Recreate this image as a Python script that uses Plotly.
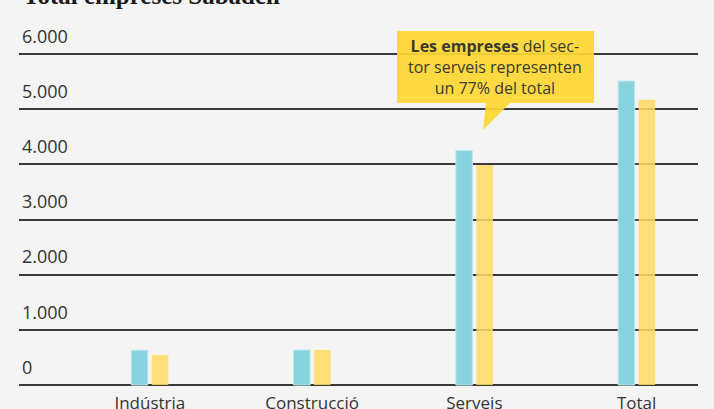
import plotly.graph_objects as go

categories = ["Indústria", "Construcció", "Serveis", "Total"]
series_a = [630, 635, 4250, 5510]   # blue series
series_b = [545, 635, 3990, 5170]   # yellow series
y_ticks = [0, 1000, 2000, 3000, 4000, 5000, 6000]
y_tick_labels = ["0", "1.000", "2.000", "3.000", "4.000", "5.000", "6.000"]

W, H = 714, 409
L, R, T, B = 19, 16, 52, 22
pw, ph = W - L - R, H - T - B

def px(x):
    return (x - L) / pw

def py(y):
    return (H - B - y) / ph

fig = go.Figure()
fig.add_trace(go.Bar(x=categories, y=series_a, marker=dict(color="#86D3DE", line=dict(color="#BFE7EE", width=1)),
                     showlegend=False, hoverinfo="skip"))
fig.add_trace(go.Bar(x=categories, y=series_b, marker=dict(color="rgba(255,217,95,0.85)", line=dict(width=0)),
                     showlegend=False, hoverinfo="skip"))

# callout box with pointer
x0, x1, y0, y1 = 397, 594, 31, 103
path = (f"M {px(x0)},{py(y0)} L {px(x1)},{py(y0)} L {px(x1)},{py(y1)} "
        f"L {px(510)},{py(y1)} L {px(483)},{py(130)} L {px(486)},{py(y1)} "
        f"L {px(x0)},{py(y1)} Z")
fig.add_shape(type="path", xref="paper", yref="paper", path=path,
              fillcolor="rgba(255,214,51,0.93)", line=dict(width=0), layer="above")
fig.add_annotation(xref="paper", yref="paper", x=px(495.5), y=py(67), xanchor="center", yanchor="middle",
                   showarrow=False, align="center",
                   text="<b>Les empreses</b> del sec-<br>tor serveis representen<br>un 77% del total",
                   font=dict(family="Open Sans", size=16, color="#3a3a30"))

# title (cut off at top)
fig.add_annotation(xref="paper", yref="paper", x=px(21), y=py(11), xanchor="left", yanchor="bottom",
                   showarrow=False, text="<b>Total empreses Sabadell</b>",
                   font=dict(family="Liberation Serif", size=25, color="#1a1a1a"))

fig.update_layout(
    width=W, height=H,
    margin=dict(l=L, r=R, t=T, b=B, pad=0, autoexpand=False),
    paper_bgcolor="#F4F4F4", plot_bgcolor="#F4F4F4",
    barmode="group", bargap=0.747, bargroupgap=0.195,
    xaxis=dict(type="category", range=[-0.806, 3.378], showgrid=False, zeroline=False, showline=False,
               ticks="", ticklabelstandoff=4, automargin=False,
               tickfont=dict(family="Open Sans", size=17, color="#333333"), fixedrange=True),
    yaxis=dict(range=[-36, 6036], tickvals=y_ticks, ticktext=y_tick_labels, showgrid=True,
               gridcolor="#3a3a3a", gridwidth=1.5, zeroline=False, showline=False, ticks="",
               ticklabelposition="inside top", ticklabeloverflow="allow", ticklabelshift=-5,
               automargin=False,
               tickfont=dict(family="Open Sans", size=18, color="#333333"), fixedrange=True),
)

fig.write_html("out.html", config={"displayModeBar": False},
               post_script="document.body.style.margin='0';document.body.style.overflow='hidden';")
